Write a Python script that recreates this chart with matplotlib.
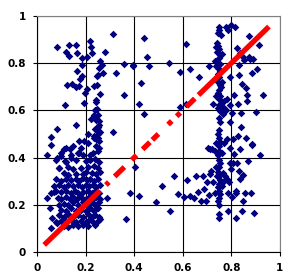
import matplotlib
matplotlib.use("Agg")
import matplotlib.pyplot as plt

# dense block of points bottom-left
left_dense = [
    (0.12, 0.44), (0.15, 0.45), (0.18, 0.44), (0.21, 0.46), (0.245, 0.45), (0.255, 0.44),
    (0.10, 0.42), (0.14, 0.41), (0.17, 0.42), (0.19, 0.41), (0.23, 0.42), (0.25, 0.43),
    (0.08, 0.39), (0.12, 0.38), (0.16, 0.39), (0.20, 0.385), (0.22, 0.39), (0.24, 0.395), (0.255, 0.38),
    (0.09, 0.355), (0.13, 0.36), (0.15, 0.35), (0.18, 0.355), (0.21, 0.36), (0.235, 0.365), (0.25, 0.355),
    (0.11, 0.335), (0.13, 0.325), (0.16, 0.33), (0.19, 0.33), (0.20, 0.34), (0.225, 0.335), (0.245, 0.33), (0.26, 0.34),
    (0.08, 0.31), (0.10, 0.30), (0.12, 0.31), (0.14, 0.305), (0.16, 0.31), (0.175, 0.30), (0.19, 0.315),
    (0.205, 0.305), (0.22, 0.31), (0.235, 0.30), (0.25, 0.31),
    (0.07, 0.28), (0.09, 0.285), (0.11, 0.275), (0.13, 0.285), (0.15, 0.28), (0.17, 0.285), (0.185, 0.275),
    (0.20, 0.285), (0.215, 0.28), (0.23, 0.285), (0.245, 0.275), (0.26, 0.285),
    (0.06, 0.25), (0.08, 0.26), (0.10, 0.255), (0.12, 0.26), (0.14, 0.25), (0.155, 0.26), (0.17, 0.25),
    (0.19, 0.255), (0.21, 0.26), (0.225, 0.25), (0.24, 0.26), (0.255, 0.25),
    (0.085, 0.23), (0.10, 0.225), (0.12, 0.235), (0.135, 0.225), (0.15, 0.235), (0.165, 0.225), (0.18, 0.235),
    (0.20, 0.225), (0.215, 0.235), (0.23, 0.225), (0.245, 0.235), (0.26, 0.225),
    (0.09, 0.20), (0.11, 0.205), (0.13, 0.20), (0.15, 0.21), (0.17, 0.20), (0.19, 0.21), (0.21, 0.20),
    (0.225, 0.21), (0.24, 0.20), (0.255, 0.21),
    (0.10, 0.18), (0.12, 0.175), (0.14, 0.185), (0.16, 0.175), (0.18, 0.18), (0.20, 0.175), (0.22, 0.185),
    (0.235, 0.175), (0.25, 0.185),
    (0.09, 0.155), (0.11, 0.15), (0.13, 0.16), (0.15, 0.15), (0.17, 0.155), (0.19, 0.15), (0.21, 0.16),
    (0.225, 0.15), (0.24, 0.155), (0.255, 0.15),
    (0.08, 0.125), (0.10, 0.13), (0.12, 0.125), (0.14, 0.135), (0.16, 0.125), (0.18, 0.13), (0.20, 0.125),
    (0.215, 0.135), (0.23, 0.125), (0.25, 0.13),
    (0.11, 0.11), (0.13, 0.105), (0.15, 0.115), (0.17, 0.11), (0.19, 0.115), (0.21, 0.11), (0.24, 0.115),
    (0.245, 0.48), (0.25, 0.50), (0.24, 0.52), (0.255, 0.54), (0.245, 0.56), (0.25, 0.58), (0.24, 0.60),
    (0.255, 0.47), (0.235, 0.49), (0.26, 0.51), (0.25, 0.53),
]

left_sparse = [
    (0.082, 0.869), (0.132, 0.877), (0.16, 0.877), (0.218, 0.894), (0.119, 0.847), (0.165, 0.843),
    (0.132, 0.83), (0.222, 0.869), (0.226, 0.843), (0.28, 0.847), (0.185, 0.822), (0.206, 0.826),
    (0.259, 0.809), (0.267, 0.792), (0.185, 0.792), (0.255, 0.78), (0.165, 0.767), (0.272, 0.758),
    (0.325, 0.758), (0.185, 0.746), (0.251, 0.75), (0.247, 0.746), (0.177, 0.733), (0.123, 0.708),
    (0.144, 0.712), (0.16, 0.699), (0.173, 0.703), (0.235, 0.703), (0.247, 0.708), (0.206, 0.691),
    (0.198, 0.674), (0.259, 0.67), (0.313, 0.924),
    (0.193, 0.631), (0.115, 0.623), (0.243, 0.644), (0.243, 0.636), (0.247, 0.606), (0.235, 0.58),
    (0.222, 0.564), (0.255, 0.555), (0.16, 0.538), (0.251, 0.53), (0.251, 0.513), (0.082, 0.521),
    (0.313, 0.508), (0.21, 0.5), (0.058, 0.487), (0.235, 0.483), (0.251, 0.483),
    (0.058, 0.453), (0.111, 0.436), (0.136, 0.436), (0.173, 0.419), (0.218, 0.41), (0.041, 0.41),
    (0.082, 0.398), (0.099, 0.407), (0.115, 0.386), (0.14, 0.398), (0.173, 0.47), (0.193, 0.47),
    (0.09, 0.356), (0.128, 0.326),
    (0.041, 0.229), (0.053, 0.186), (0.07, 0.254), (0.062, 0.144), (0.082, 0.123), (0.058, 0.102),
    (0.288, 0.229), (0.259, 0.14), (0.366, 0.14), (0.383, 0.25), (0.42, 0.237), (0.403, 0.36),
]

middle = [
    (0.44, 0.907), (0.453, 0.826), (0.358, 0.797), (0.395, 0.792), (0.395, 0.788), (0.461, 0.788),
    (0.428, 0.716), (0.358, 0.665), (0.42, 0.627), (0.44, 0.585), (0.543, 0.801), (0.588, 0.763),
    (0.63, 0.775), (0.613, 0.881), (0.588, 0.614), (0.613, 0.627), (0.667, 0.742), (0.708, 0.788),
    (0.733, 0.809),
]

right_band = [
    (0.749, 0.953), (0.749, 0.941), (0.745, 0.928), (0.757, 0.919), (0.778, 0.953), (0.786, 0.941),
    (0.798, 0.962), (0.815, 0.953), (0.872, 0.915), (0.914, 0.877),
    (0.74, 0.886), (0.745, 0.872), (0.75, 0.86), (0.742, 0.848), (0.755, 0.836), (0.748, 0.822),
    (0.74, 0.81), (0.752, 0.797), (0.745, 0.78), (0.755, 0.767), (0.745, 0.752), (0.75, 0.74),
    (0.742, 0.725), (0.753, 0.708), (0.757, 0.697), (0.748, 0.686), (0.745, 0.672), (0.755, 0.66),
    (0.748, 0.647), (0.76, 0.635), (0.75, 0.622), (0.745, 0.61), (0.753, 0.597), (0.749, 0.568),
    (0.752, 0.55), (0.749, 0.517), (0.745, 0.5), (0.749, 0.483), (0.752, 0.466), (0.749, 0.449),
    (0.749, 0.43), (0.745, 0.41), (0.749, 0.39), (0.752, 0.375), (0.749, 0.36), (0.745, 0.34),
    (0.749, 0.32), (0.752, 0.305), (0.749, 0.29), (0.745, 0.275), (0.749, 0.26), (0.752, 0.245),
    (0.749, 0.23), (0.745, 0.215), (0.749, 0.2), (0.749, 0.161), (0.749, 0.144),
    (0.735, 0.87), (0.762, 0.84), (0.738, 0.79), (0.762, 0.72), (0.736, 0.66), (0.764, 0.6),
    (0.738, 0.46), (0.76, 0.42), (0.738, 0.36), (0.762, 0.28),
]

right_sparse = [
    (0.823, 0.864), (0.835, 0.843), (0.848, 0.826), (0.872, 0.826), (0.877, 0.818), (0.889, 0.818),
    (0.852, 0.813), (0.831, 0.792), (0.905, 0.775), (0.885, 0.758), (0.831, 0.75), (0.794, 0.742),
    (0.844, 0.712), (0.86, 0.695), (0.864, 0.665), (0.93, 0.665), (0.811, 0.665), (0.782, 0.648),
    (0.724, 0.627), (0.765, 0.614), (0.794, 0.623), (0.827, 0.627), (0.901, 0.593), (0.802, 0.589),
    (0.794, 0.551), (0.84, 0.53), (0.864, 0.64), (0.84, 0.589), (0.77, 0.64), (0.78, 0.6), (0.765, 0.585),
    (0.827, 0.49), (0.86, 0.483), (0.885, 0.458), (0.782, 0.479), (0.77, 0.462), (0.704, 0.44),
    (0.72, 0.436), (0.733, 0.428), (0.807, 0.479), (0.811, 0.415), (0.835, 0.436), (0.918, 0.411),
    (0.794, 0.377), (0.807, 0.377), (0.794, 0.44), (0.885, 0.453), (0.868, 0.386), (0.712, 0.436),
    (0.49, 0.212), (0.514, 0.28), (0.547, 0.174), (0.564, 0.322), (0.58, 0.246), (0.605, 0.233),
    (0.617, 0.305), (0.63, 0.237), (0.646, 0.229), (0.654, 0.322), (0.663, 0.254), (0.675, 0.216),
    (0.695, 0.216), (0.683, 0.322), (0.687, 0.267), (0.7, 0.297), (0.708, 0.242), (0.712, 0.331),
    (0.716, 0.343), (0.724, 0.297), (0.733, 0.25), (0.741, 0.322), (0.765, 0.335), (0.782, 0.31),
    (0.79, 0.297), (0.798, 0.352), (0.786, 0.25), (0.802, 0.233), (0.786, 0.174), (0.819, 0.258),
    (0.819, 0.25), (0.823, 0.377), (0.819, 0.144), (0.831, 0.343), (0.835, 0.31), (0.848, 0.326),
    (0.848, 0.216), (0.844, 0.174), (0.856, 0.25), (0.881, 0.25), (0.893, 0.165), (0.77, 0.3),
    (0.775, 0.32),
]

# red y=x pieces (start, end)
red_start = [0.03, 0.284, 0.32, 0.39, 0.435, 0.475, 0.54, 0.575, 0.615, 0.665]
red_end = [0.26, 0.296, 0.36, 0.41, 0.465, 0.50, 0.555, 0.59, 0.65, 0.955]

ticks = [0, 0.2, 0.4, 0.6, 0.8, 1]
tick_labels = ["0", "0.2", "0.4", "0.6", "0.8", "1"]

pts = left_dense + left_sparse + middle + right_band + right_sparse
xs = [p[0] for p in pts]
ys = [p[1] for p in pts]

fig = plt.figure(figsize=(3, 2.8), dpi=100)
ax = fig.add_axes([0.123, 0.1, 0.81, 0.843])

ax.scatter(xs, ys, marker="D", s=15, color="#000080", linewidths=0, zorder=3)
for a, b in zip(red_start, red_end):
    ax.plot([a, b], [a, b], color="#ff0000", lw=3.8, solid_capstyle="butt", zorder=4)

ax.set_xlim(0, 1)
ax.set_ylim(0, 1)
ax.set_xticks(ticks)
ax.set_yticks(ticks)
ax.set_xticklabels(tick_labels, fontweight="bold", fontsize=7.5)
ax.set_yticklabels(tick_labels, fontweight="bold", fontsize=7.5)
ax.tick_params(direction="out", length=3, width=0.8, pad=5)
ax.grid(True, color="black", lw=0.8)
ax.set_axisbelow(True)
ax.spines["left"].set_color("black")
ax.spines["bottom"].set_color("black")
ax.spines["top"].set_color("#808080")
ax.spines["right"].set_color("#808080")
for s in ax.spines.values():
    s.set_linewidth(0.8)

fig.savefig("out.png", dpi=100)
